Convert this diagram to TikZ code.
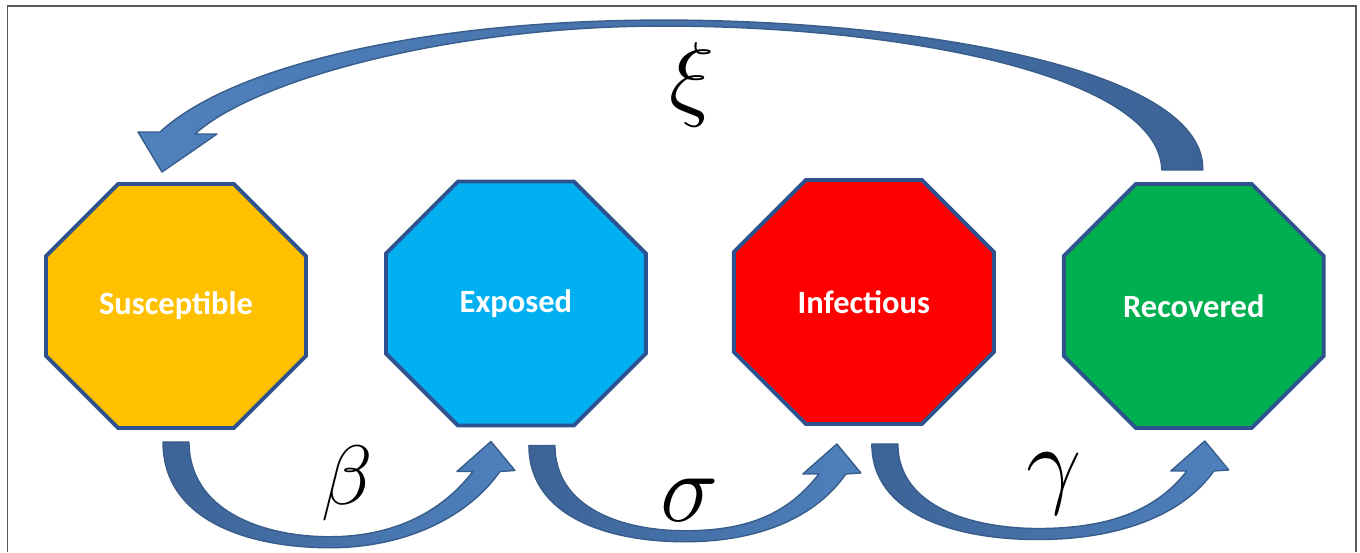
\RequirePackage{fix-cm}
\documentclass[tikz,border=0pt]{standalone}
\usepackage{fontspec}
\setsansfont{Carlito}
\usetikzlibrary{calc, positioning, backgrounds}
\definecolor{susc}{HTML}{FFC000}
\definecolor{expo}{HTML}{00B0F0}
\definecolor{infe}{HTML}{FF0000}
\definecolor{reco}{HTML}{00B050}
\definecolor{edge}{HTML}{2E5290}
\definecolor{flowlight}{HTML}{4F81BD}
\definecolor{flowdark}{HTML}{3D6396}
\definecolor{flowline}{HTML}{385D8A}
\tikzset{
  stage/.style={
    rectangle,
    minimum width=5.2cm,
    minimum height=4.88cm,
    outer sep=0pt,
    font=\sffamily\bfseries\fontsize{18.5}{22}\selectfont,
    text=white
  },
  octagon/.style={
    draw=edge,
    line width=2.2pt,
    line join=miter
  },
  flow up/.style={
    draw=flowline,
    line width=0.8pt,
    line join=round,
    left color=flowdark,
    right color=flowlight
  },
  flow back/.style={
    draw=flowline,
    line width=0.8pt,
    line join=round,
    left color=flowlight,
    right color=flowdark
  },
  rate/.style={
    inner sep=0pt,
    font=\fontsize{52}{60}\selectfont
  }
}
% bent arrow under the boxes: tail, tip, depth
\newcommand{\flowarrow}[3]{%
  \path[flow up]
    ($(#1)+(-13,0)$) .. controls ($(#1)+(-13,0.74*#3)$) and ($(#1)!0.23!(#2)+(0,#3)$)
    .. ($(#1)!0.49!(#2)+(0,#3)$) .. controls ($(#1)!0.74!(#2)+(0,#3)$) and ($(#2)+(-21,73)$)
    .. ($(#2)+(9,30)$) -- ($(#2)+(24,29)$) -- (#2) -- ($(#2)+(-34,30)$) -- ($(#2)+(-18,30)$)
    .. controls ($(#2)+(-51,73)$) and ($(#1)!0.68!(#2)+(0,#3-11)$)
    .. ($(#1)!0.49!(#2)+(0,#3-11)$) .. controls ($(#1)!0.27!(#2)+(0,#3-11)$) and ($(#1)+(13,0.64*#3)$)
    .. ($(#1)+(13,0)$) -- cycle;}

\begin{document}
\begin{tikzpicture}[x=0.02cm, y=-0.02cm]
\useasboundingbox (0,0) rectangle (1360,552);
\draw[gray!70!black, line width=0.8pt] (7.5,552) -- (7.5,6) -- (1356,6) -- (1356,552);

% compartments
\node[stage] (sus) at (176,306) {Susceptible};
\node[stage, right=1.6cm of sus, yshift=0.05cm] (exp) {Exposed};
\node[stage, right=1.76cm of exp, yshift=0.03cm] (inf) {Infectious};
\node[stage, right=1.4cm of inf, yshift=-0.08cm] (rec) {Recovered};

\begin{pgfonlayer}{background}
\foreach \n/\c in {sus/susc, exp/expo, inf/infe, rec/reco}
  \draw[octagon, fill=\c]
    ($(\n.north west)+(72,0)$) -- ($(\n.north east)+(-72,0)$) --
    ($(\n.north east)+(0,72)$) -- ($(\n.south east)+(0,-72)$) --
    ($(\n.south east)+(-72,0)$) -- ($(\n.south west)+(72,0)$) --
    ($(\n.south west)+(0,-72)$) -- ($(\n.north west)+(0,72)$) -- cycle;
\end{pgfonlayer}

% forward flows
\coordinate (t1) at ($(sus.south)+(0,14)$);
\coordinate (h1) at ($(exp.south)+(-25,16)$);
\flowarrow{t1}{h1}{106}
\coordinate (t2) at ($(exp.south)+(26,20)$);
\coordinate (h2) at ($(inf.south)+(-27,20)$);
\flowarrow{t2}{h2}{97}
\coordinate (t3) at ($(inf.south)+(21,20)$);
\coordinate (h3) at ($(rec.south)+(11,13)$);
\flowarrow{t3}{h3}{97}

% loss of immunity
\coordinate (rt) at ($(rec.north)+(-12,-14)$);
\coordinate (st) at ($(sus.north)+(-14,-12)$);
\path[flow back]
  ($(rt)+(21,0)$) .. controls ($(rt)+(23,-105)$) and ($(rt)!0.276!(st)+(0,-151)$)
  .. ($(rt)!0.512!(st)+(0,-151)$) .. controls ($(rt)!0.747!(st)+(0,-151)$) and ($(st)+(68,-105)$)
  .. ($(st)+(-2,-40)$) -- ($(st)+(-24,-40)$) -- (st) -- ($(st)+(55,-38)$) -- ($(st)+(33,-38)$)
  .. controls ($(st)+(92,-92)$) and ($(rt)!0.718!(st)+(0,-145)$) .. ($(rt)!0.512!(st)+(0,-145)$)
  .. controls ($(rt)!0.276!(st)+(0,-145)$) and ($(rt)+(-22,-95)$) .. ($(rt)+(-20,0)$) -- cycle;

% rates
\node[rate, font=\fontsize{54}{60}\selectfont] (xi) at (692,85) {$\xi$};
\node[rate, font=\fontsize{48}{56}\selectfont] (beta) at (347,483) {$\beta$};
\node[rate, font=\fontsize{56}{64}\selectfont] (sigma) at (690,500) {$\sigma$};
\node[rate, font=\fontsize{56}{64}\selectfont] (gamma) at (1054,484) {$\gamma$};
\end{tikzpicture}
\end{document}
